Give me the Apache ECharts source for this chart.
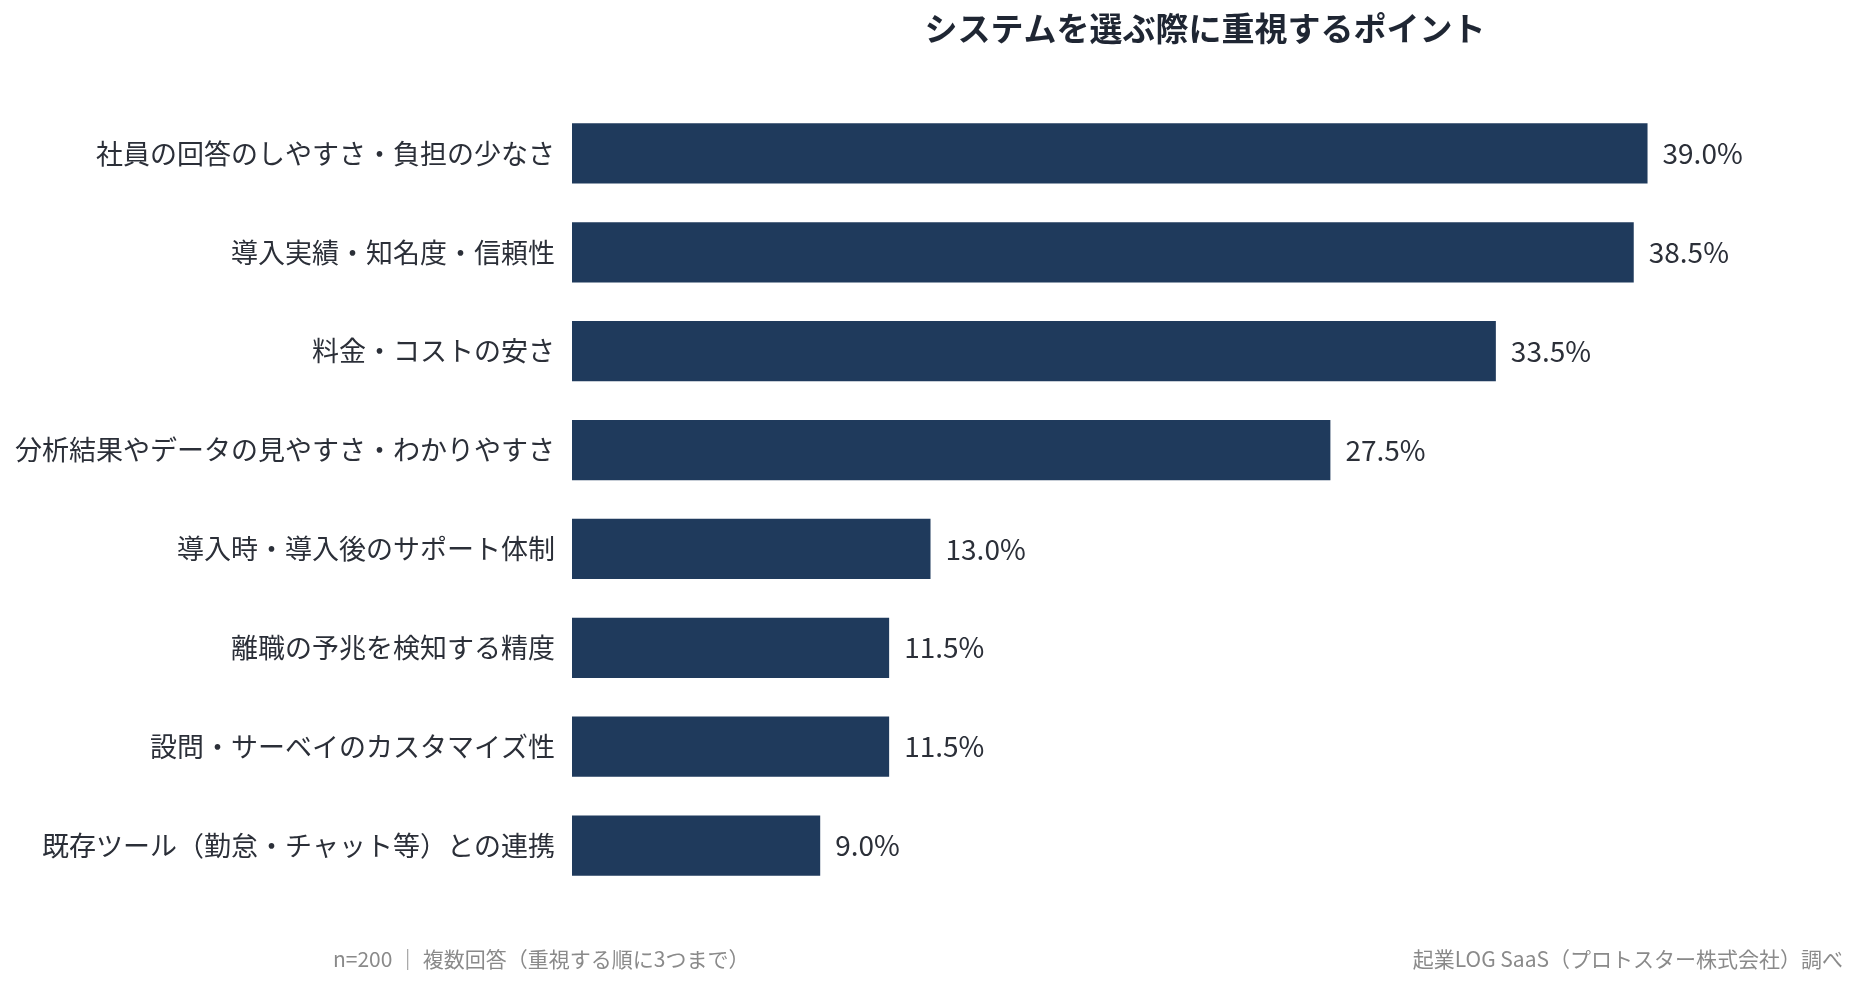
<!DOCTYPE html>
<html><head><meta charset="utf-8">
<script src="https://cdn.jsdelivr.net/npm/echarts@6/dist/echarts.min.js"></script>
<style>html,body{margin:0;padding:0;background:#fff}#c{width:1860px;height:988px}</style>
</head><body><div id="c"></div>
<script>
const categories = [
  '社員の回答のしやすさ・負担の少なさ',
  '導入実績・知名度・信頼性',
  '料金・コストの安さ',
  '分析結果やデータの見やすさ・わかりやすさ',
  '導入時・導入後のサポート体制',
  '離職の予兆を検知する精度',
  '設問・サーベイのカスタマイズ性',
  '既存ツール（勤怠・チャット等）との連携'
];
const values = [39.0, 38.5, 33.5, 27.5, 13.0, 11.5, 11.5, 9.0];
const titleText = 'システムを選ぶ際に重視するポイント';
const noteLeft = 'n=200 ｜ 複数回答（重視する順に3つまで）';
const noteRight = '起業LOG SaaS（プロトスター株式会社）調べ';

const font = '"Noto Sans CJK JP", "Noto Sans", sans-serif';
const chart = echarts.init(document.getElementById('c'));
chart.setOption({
  backgroundColor: '#ffffff',
  textStyle: { fontFamily: font },
  title: {
    text: titleText,
    left: 1200, top: 7, textAlign: 'center',
    textStyle: { fontSize: 33, fontWeight: 'bold', color: '#1f2633', fontFamily: font }
  },
  grid: { left: 572, right: 47, top: 104, bottom: 93, containLabel: false },
  xAxis: { type: 'value', min: 0, max: 45, show: false },
  yAxis: {
    type: 'category', data: categories, inverse: true,
    axisLine: { show: false }, axisTick: { show: false },
    axisLabel: { fontSize: 27, color: '#2b2f38', margin: 17, fontFamily: font }
  },
  series: [{
    type: 'bar', data: values, barCategoryGap: '39%',
    itemStyle: { color: '#1f3a5c' },
    label: {
      show: true, position: 'right', distance: 15,
      formatter: p => p.value.toFixed(1) + '%',
      fontSize: 28, color: '#2b2f38', fontFamily: font
    },
    silent: true
  }],
  graphic: [
    { type: 'text', left: 333, top: 949, style: { text: noteLeft, fontSize: 21, fill: '#8a8a8a', fontFamily: font } },
    { type: 'text', right: 17, top: 949, style: { text: noteRight, fontSize: 21, fill: '#8a8a8a', fontFamily: font } }
  ],
  animation: false
});
</script></body></html>
